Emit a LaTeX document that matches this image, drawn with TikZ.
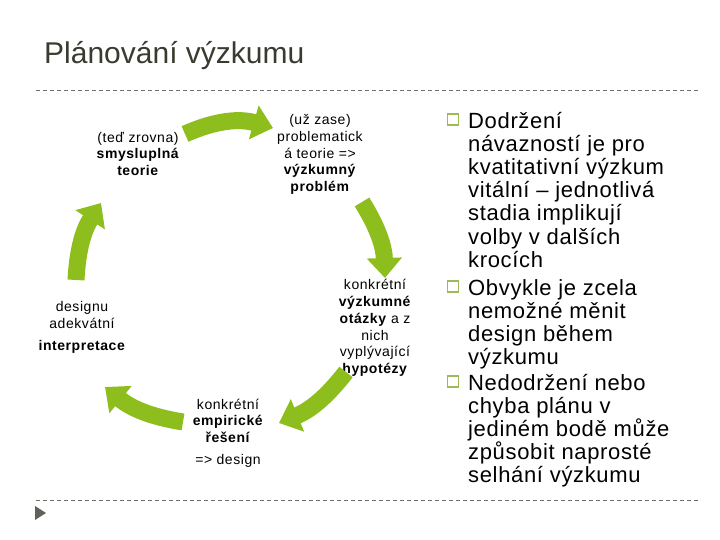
\documentclass[tikz,border=0pt]{standalone}
\usepackage{fontspec}
\setmainfont{Liberation Sans}
\usepackage{tikz}
\usetikzlibrary{arrows.meta}

\definecolor{cyklusgreen}{RGB}{142,190,30}
\definecolor{bodgreen}{RGB}{155,187,89}
\definecolor{nadpisgray}{RGB}{58,58,48}
\definecolor{linkagray}{RGB}{110,110,100}

\begin{document}
\begin{tikzpicture}[
        x=1pt, y=1pt,
        % styles for the cycle
        cyklus/.style={
            draw=cyklusgreen, line width=17pt,
            -{Triangle[width=34pt, length=20pt]}
        },
        popis/.style={
            align=center, inner sep=0pt,
            font=\fontsize{14}{16.7}\selectfont\addfontfeatures{LetterSpace=4}
        },
        % styles for the bullet list
        bod/.style={
            anchor=north west, align=left, inner sep=0pt,
            font=\fontsize{22}{23.2}\selectfont\addfontfeatures{LetterSpace=3}
        },
        ctverec/.style={
            draw=bodgreen, line width=1.2pt, fill=white,
            minimum size=11pt, inner sep=0pt
        },
        linka/.style={draw=linkagray, line width=0.8pt, dash pattern=on 4pt off 3pt}
    ]

    \useasboundingbox (0,0) rectangle (720,540);

    % 1. TITLE AND RULES
    \node[anchor=base west, inner sep=0pt, text=nadpisgray,
          font=\fontsize{30}{36}\selectfont] (nadpis) at (44,476) {Plánování výzkumu};

    \coordinate (horniA) at (36,450);
    \coordinate (horniB) at (700,450);
    \coordinate (dolniA) at (36,40);
    \coordinate (dolniB) at (700,40);
    \draw[linka] (horniA) -- (horniB);
    \draw[linka] (dolniA) -- (dolniB);

    \fill[nadpisgray!80] (35,34) -- (46,27) -- (35,20) -- cycle;

    % 2. LABELS OF THE CYCLE
    \node[popis] (teorie)  at (138,386)   {(teď zrovna)\\\textbf{smysluplná}\\\textbf{teorie}};
    \node[popis] (problem) at (320,385.5) {(už zase)\\problematick\\á teorie =>\\\textbf{výzkumný}\\\textbf{problém}};
    \node[popis] (otazky)  at (375,212)   {konkrétní\\\textbf{výzkumné}\\\textbf{otázky} a z\\nich\\vyplývající\\\textbf{hypotézy}};
    \node[popis] (reseni)  at (228,107)   {konkrétní\\\textbf{empirické}\\\textbf{řešení}\\[5pt]=> design};
    \node[popis] (interpretace) at (82,212.5) {designu\\adekvátní\\[5pt]\textbf{interpretace}};

    % 3. ARROWS OF THE CYCLE
    \coordinate (c1a) at (185,406);  \coordinate (c1b) at (273,412);
    \coordinate (c2a) at (362,338);  \coordinate (c2b) at (385,262);
    \coordinate (c3a) at (346,168);  \coordinate (c3b) at (279,117);
    \coordinate (c4a) at (183,118);  \coordinate (c4b) at (105,153);
    \coordinate (c5a) at (76,260);   \coordinate (c5b) at (101,337);

    \draw[cyklus] (c1a) to[bend left=20] (c1b);
    \draw[cyklus] (c2a) to[bend left=15] (c2b);
    \draw[cyklus] (c3a) to[bend left=15] (c3b);
    \draw[cyklus] (c4a) to[bend left=15] (c4b);
    \draw[cyklus] (c5a) to[bend left=15] (c5b);

    % 4. BULLET LIST ON THE RIGHT
    \node[ctverec] (ctverec1) at (453,420.5) {};
    \node[ctverec] (ctverec2) at (453,253.5) {};
    \node[ctverec] (ctverec3) at (453,158.5) {};

    \node[bod] (bod1) at (468,432) {\rule{0pt}{20pt}Dodržení\\návazností je pro\\kvatitativní výzkum\\vitální – jednotlivá\\stadia implikují\\volby v dalších\\krocích};
    \node[bod] (bod2) at (468,265) {\rule{0pt}{20pt}Obvykle je zcela\\nemožné měnit\\design během\\výzkumu};
    \node[bod] (bod3) at (468,170) {\rule{0pt}{20pt}Nedodržení nebo\\chyba plánu v\\jediném bodě může\\způsobit naprosté\\selhání výzkumu};

\end{tikzpicture}
\end{document}
